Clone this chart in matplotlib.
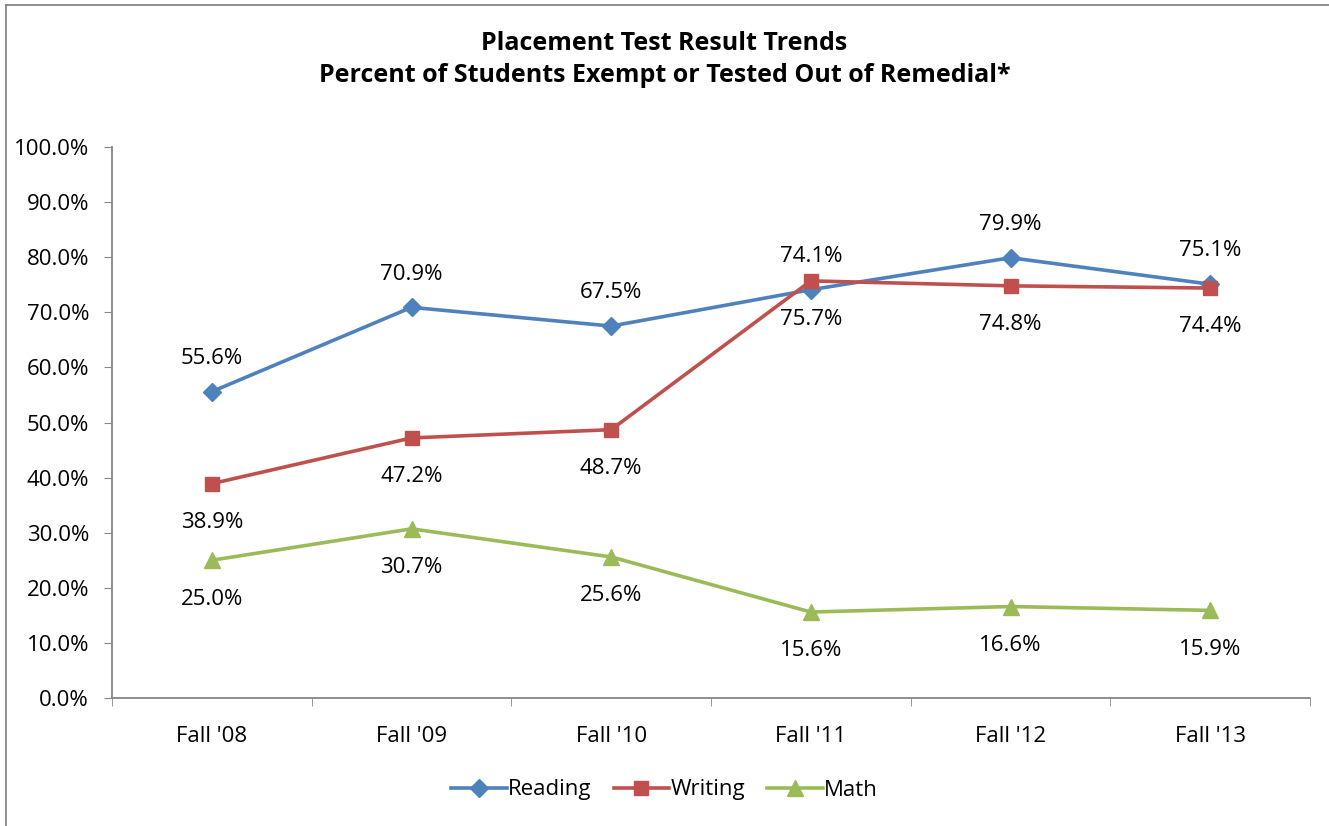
import matplotlib.pyplot as plt
from matplotlib.lines import Line2D
from matplotlib.ticker import FixedLocator, FuncFormatter

categories = ["Fall '08", "Fall '09", "Fall '10", "Fall '11", "Fall '12", "Fall '13"]
reading = [55.6, 70.9, 67.5, 74.1, 79.9, 75.1]
writing = [38.9, 47.2, 48.7, 75.7, 74.8, 74.4]
math = [25.0, 30.7, 25.6, 15.6, 16.6, 15.9]

plt.rcParams['font.family'] = ['Open Sans', 'DejaVu Sans']

fig = plt.figure(figsize=(13.29, 8.26), dpi=100)
ax = fig.add_axes([112 / 1329, 1 - 698 / 826, 1198 / 1329, 551 / 826])

x = list(range(len(categories)))
series = [
    ('Reading', reading, '#4F81BD', 'D', 9, 24),
    ('Writing', writing, '#C0504D', 's', 10, -28),
    ('Math', math, '#9BBB59', '^', 11, -28),
]
for name, vals, col, mk, ms, off in series:
    ax.plot(x, vals, color=col, lw=2.6, marker=mk, markersize=ms, label=name)
    for xi, v in zip(x, vals):
        ax.annotate(f'{v:.1f}%', (xi, v), xytext=(0, off), textcoords='offset points',
                    ha='center', va='center', fontsize=16, color='black')

ax.set_xlim(-0.5, len(categories) - 0.5)
ax.set_ylim(0, 100)
ax.set_yticks(range(0, 101, 10))
ax.yaxis.set_major_formatter(FuncFormatter(lambda v, p: f'{v:.1f}%'))
ax.set_xticks(x)
ax.set_xticklabels(categories)
ax.xaxis.set_minor_locator(FixedLocator([i - 0.5 for i in range(len(categories) + 1)]))
ax.tick_params(axis='x', which='major', length=0, pad=20, labelsize=16)
ax.tick_params(axis='x', which='minor', length=5.5, color='#868686', direction='out')
ax.tick_params(axis='y', length=5.5, color='#868686', labelsize=16, pad=11)
for s in ['top', 'right']:
    ax.spines[s].set_visible(False)
for s in ['left', 'bottom']:
    ax.spines[s].set_color('#868686')
    ax.spines[s].set_linewidth(1.3)

fig.text(0.5, 1 - 43 / 826, 'Placement Test Result Trends', ha='center', va='center',
         fontsize=18, fontweight='bold')
fig.text(0.5, 1 - 76 / 826, 'Percent of Students Exempt or Tested Out of Remedial*', ha='center',
         va='center', fontsize=18, fontweight='bold')

handles = [Line2D([], [], color=c, lw=2.6, marker=m, markersize=ms) for _, _, c, m, ms, _ in series]
fig.legend(handles, [s[0] for s in series], loc='center', bbox_to_anchor=(0.5, 1 - 790 / 826),
           ncol=3, frameon=False, fontsize=16, handlelength=2.5, handletextpad=0.05, columnspacing=1.0)

# outer chart frame
fig.add_artist(Line2D([6 / 1329, 6 / 1329], [0, 1 - 5 / 826], color='#868686', lw=1.3))
fig.add_artist(Line2D([6 / 1329, 1], [1 - 5 / 826, 1 - 5 / 826], color='#868686', lw=1.3))

fig.savefig('out.png', dpi=100)
